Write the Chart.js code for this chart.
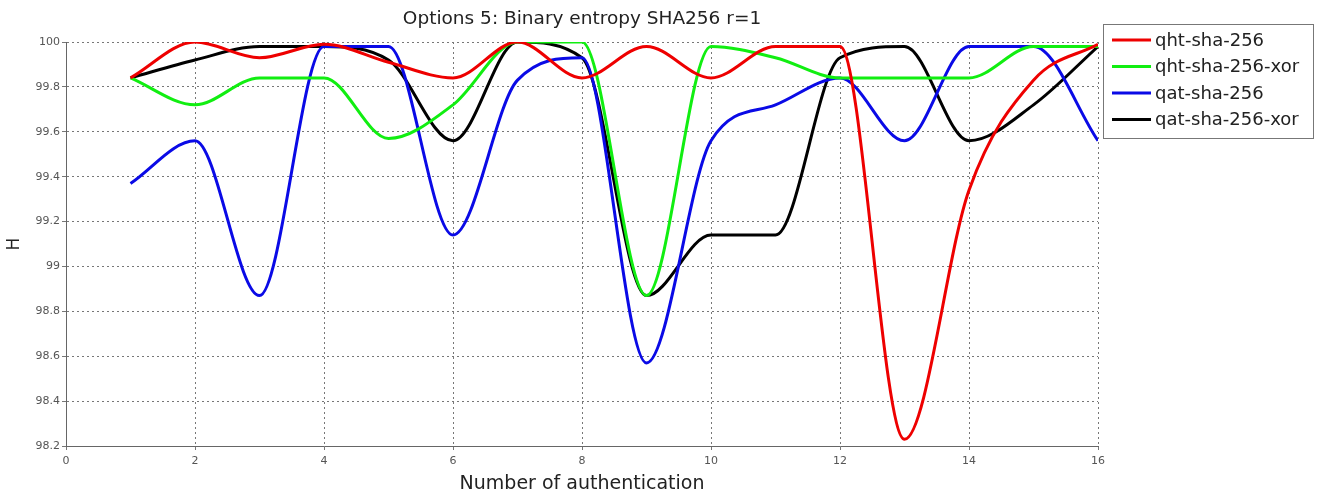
<!DOCTYPE html>
<html>
<head>
<meta charset="utf-8">
<script src="https://cdn.jsdelivr.net/npm/chart.js@4/dist/chart.umd.min.js"></script>
<style>
  html, body { margin: 0; padding: 0; background: #fff; }
  #wrap { width: 1319px; height: 495px; }
</style>
</head>
<body>
<div id="wrap"><canvas id="lineChart" width="1319" height="495"></canvas></div>
<script>
// data
const authNumbers = [1, 2, 3, 4, 5, 6, 7, 8, 9, 10, 11, 12, 13, 14, 15, 16];
const qhtSha256 = [99.84, 100, 99.93, 99.99, 99.91, 99.84, 100, 99.84, 99.98, 99.84, 99.98, 99.98, 98.23, 99.34, 99.83, 99.99];
const qhtSha256Xor = [99.84, 99.72, 99.84, 99.84, 99.57, 99.72, 100, 100, 98.87, 99.98, 99.93, 99.84, 99.84, 99.84, 99.98, 99.98];
const qatSha256 = [99.37, 99.56, 98.87, 99.98, 99.98, 99.14, 99.83, 99.93, 98.57, 99.56, 99.72, 99.84, 99.56, 99.98, 99.98, 99.56];
const qatSha256Xor = [99.84, 99.92, 99.98, 99.98, 99.92, 99.56, 100, 99.93, 98.87, 99.14, 99.14, 99.93, 99.98, 99.56, 99.72, 99.98];
const seriesNames = ["qht-sha-256", "qht-sha-256-xor", "qat-sha-256", "qat-sha-256-xor"];
const xTicks = [0, 2, 4, 6, 8, 10, 12, 14, 16];
const yTicks = [98.2, 98.4, 98.6, 98.8, 99, 99.2, 99.4, 99.6, 99.8, 100];

const colors = ["#ee0000", "#11ee11", "#0a0ae6", "#000000"];
const allSeries = [qhtSha256, qhtSha256Xor, qatSha256, qatSha256Xor];
const fontFamily = "'DejaVu Sans', Arial, sans-serif";

function toPoints(values) {
  return values.map((v, i) => ({ x: authNumbers[i], y: v }));
}

// Boxed legend in the top right corner, like the original figure
const boxLegend = {
  id: "boxLegend",
  afterDraw(chart) {
    const ctx = chart.ctx;
    const left = 1103, top = 24, w = 210, h = 114;
    ctx.save();
    ctx.fillStyle = "#fff";
    ctx.fillRect(left, top, w, h);
    ctx.strokeStyle = "#777";
    ctx.lineWidth = 1;
    ctx.strokeRect(left + 0.5, top + 0.5, w, h);
    ctx.font = "18px " + fontFamily;
    ctx.textBaseline = "middle";
    chart.data.datasets.forEach((ds, i) => {
      const y = top + 16 + i * 26.5;
      ctx.strokeStyle = ds.borderColor;
      ctx.lineWidth = 3;
      ctx.beginPath();
      ctx.moveTo(left + 9, y);
      ctx.lineTo(left + 48, y);
      ctx.stroke();
      ctx.fillStyle = "#222";
      ctx.fillText(ds.label, left + 52, y + 1);
    });
    ctx.restore();
  },
};

const ctx = document.getElementById("lineChart").getContext("2d");
const lineChart = new Chart(ctx, {
  type: "line",
  data: {
    datasets: allSeries.map((values, i) => ({
      label: seriesNames[i],
      data: toPoints(values),
      borderColor: colors[i],
      backgroundColor: colors[i],
      borderWidth: 3,
      pointRadius: 0,
      fill: false,
      cubicInterpolationMode: "monotone",
    })),
  },
  options: {
    responsive: false,
    animation: false,
    layout: { padding: { left: 0, right: 221, top: 0, bottom: 0 } },
    plugins: {
      legend: { display: false },
      tooltip: { enabled: false },
      title: {
        display: true,
        fullSize: false,
        text: "Options 5: Binary entropy SHA256 r=1",
        color: "#222",
        font: { family: fontFamily, size: 18.5, weight: "normal" },
        padding: { top: 8.4, bottom: 11.4 },
      },
    },
    scales: {
      x: {
        type: "linear",
        min: 0,
        max: 16,
        afterBuildTicks: (scale) => {
          scale.ticks = xTicks.map((v) => ({ value: v }));
        },
        afterFit: (scale) => {
          scale.height = 49;
        },
        ticks: {
          color: "#555",
          font: { family: fontFamily, size: 11 },
          padding: 5,
        },
        grid: {
          color: "#777",
          lineWidth: 1,
          tickLength: 4,
        },
        border: { display: true, color: "#666", dash: [2, 3], width: 1 },
        title: {
          display: true,
          text: "Number of authentication",
          color: "#222",
          font: { family: fontFamily, size: 19 },
          padding: { top: 0, bottom: 0 },
        },
      },
      y: {
        min: 98.2,
        max: 100,
        afterBuildTicks: (scale) => {
          scale.ticks = yTicks.map((v) => ({ value: v }));
        },
        afterFit: (scale) => {
          scale.width = 66;
        },
        ticks: {
          color: "#555",
          font: { family: fontFamily, size: 11 },
          padding: 2,
          callback: (v) => String(Number(v.toFixed(1))),
        },
        grid: {
          color: "#777",
          lineWidth: 1,
          tickLength: 4,
        },
        border: { display: true, color: "#666", dash: [2, 3], width: 1 },
        title: {
          display: true,
          text: "H",
          color: "#222",
          font: { family: fontFamily, size: 17 },
          padding: { bottom: 2 },
        },
      },
    },
  },
  plugins: [boxLegend],
});
</script>
</body>
</html>
